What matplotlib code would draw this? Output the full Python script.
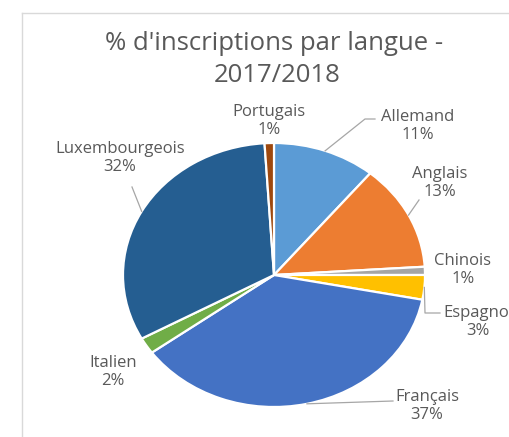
import matplotlib

matplotlib.use("Agg")
import matplotlib.pyplot as plt
import numpy as np

# inscriptions par langue, 2017/2018 (en %)
langues = ["Allemand", "Anglais", "Chinois", "Espagnol", "Français", "Italien", "Luxembourgeois", "Portugais"]
parts = [11, 13, 1, 3, 37, 2, 32, 1]
couleurs = ["#5B9BD5", "#ED7D31", "#A5A5A5", "#FFC000", "#4472C4", "#70AD47", "#255E91", "#9E480E"]

W, H = 509, 437
CX, CY, RX, RY = 274, 275, 151, 132
TXT = "#595959"
LINE = "#A6A6A6"
FONT = "Open Sans"

# label centres (px) and leader elbows for the outside labels
label_pos = {
    "Allemand": (418, 126),
    "Anglais": (440, 183),
    "Chinois": (463, 270),
    "Espagnol": (478, 322),
    "Français": (427, 406),
    "Italien": (113, 372),
    "Luxembourgeois": (120, 158),
    "Portugais": (269, 121),
}
leaders = {
    "Allemand": [(365, 119), (375, 119)],
    "Anglais": [(419, 200)],
    "Espagnol": [(425, 313), (440, 313)],
    "Français": [(393, 401)],
    "Luxembourgeois": [(132, 187)],
}

fig = plt.figure(figsize=(W / 100, H / 100), dpi=100)

# pie axes: stretched horizontally like the exported chart
ax = fig.add_axes([(CX - RX) / W, (H - CY - RY) / H, 2 * RX / W, 2 * RY / H])
wedges, _ = ax.pie(
    parts,
    colors=couleurs,
    startangle=90,
    counterclock=False,
    radius=1.0,
    wedgeprops=dict(edgecolor="white", linewidth=1.6),
)
ax.set_aspect("auto")
ax.set_xlim(-1, 1)
ax.set_ylim(-1, 1)
ax.axis("off")

# overlay in pixel coordinates for frame, title and labels
ov = fig.add_axes([0, 0, 1, 1], zorder=3)
ov.set_xlim(0, W)
ov.set_ylim(H, 0)
ov.axis("off")
ov.patch.set_alpha(0)

ov.plot([22, 22], [13, H], color="#D9D9D9", lw=1.0)
ov.plot([22, W], [13, 13], color="#D9D9D9", lw=1.0)

ov.text(274, 44, "% d'inscriptions par langue -", ha="center", va="center",
        fontsize=18.5, color=TXT, family=FONT)
ov.text(277, 76, "2017/2018", ha="center", va="center",
        fontsize=18.5, color=TXT, family=FONT)

for w, nom, p in zip(wedges, langues, parts):
    mid = np.deg2rad((w.theta1 + w.theta2) / 2)
    ax_pt = (CX + RX * np.cos(mid), CY - RY * np.sin(mid))
    if nom in leaders:
        pts = [ax_pt] + leaders[nom]
        ov.plot([q[0] for q in pts], [q[1] for q in pts], color=LINE, lw=0.9)
    x, y = label_pos[nom]
    ov.text(x, y, f"{nom}\n{p}%", ha="center", va="center", fontsize=12,
            color=TXT, family=FONT, linespacing=1.15)

fig.savefig("out.png", dpi=100)
